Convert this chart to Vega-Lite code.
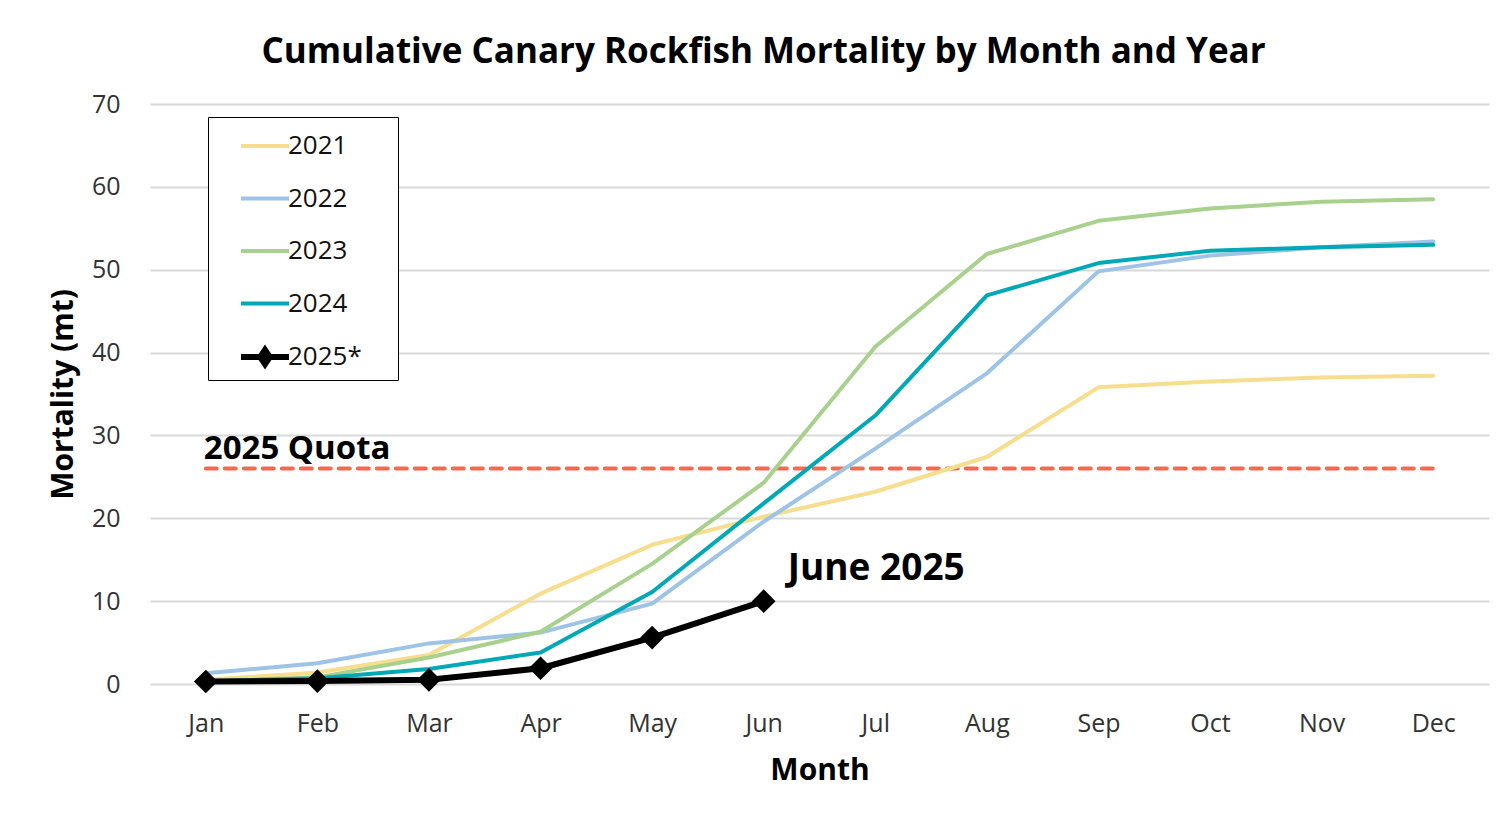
{
  "$schema": "https://vega.github.io/schema/vega-lite/v6.json",
  "width": 1339,
  "height": 580,
  "autosize": {"type": "none"},
  "padding": {"left": 150, "top": 104, "right": 22, "bottom": 130},
  "background": "white",
  "title": {
    "text": "Cumulative Canary Rockfish Mortality by Month and Year",
    "font": "Open Sans",
    "fontSize": 35,
    "fontWeight": "bold",
    "color": "black",
    "anchor": "middle",
    "dx": -56,
    "offset": 22
  },
  "config": {
    "view": {"stroke": null},
    "font": "Open Sans",
    "axis": {
      "labelFont": "Open Sans",
      "labelFontSize": 25,
      "labelColor": "#333333",
      "titleFont": "Open Sans",
      "titleFontSize": 30,
      "titleFontWeight": "bold",
      "titleColor": "black",
      "domain": false,
      "ticks": false
    }
  },
  "datasets": {
    "series": [
      {"month": "Jan", "year": "2021", "value": 0.5},
      {"month": "Feb", "year": "2021", "value": 1.4},
      {"month": "Mar", "year": "2021", "value": 3.5},
      {"month": "Apr", "year": "2021", "value": 10.9},
      {"month": "May", "year": "2021", "value": 16.8},
      {"month": "Jun", "year": "2021", "value": 20.2},
      {"month": "Jul", "year": "2021", "value": 23.2},
      {"month": "Aug", "year": "2021", "value": 27.4},
      {"month": "Sep", "year": "2021", "value": 35.8},
      {"month": "Oct", "year": "2021", "value": 36.5},
      {"month": "Nov", "year": "2021", "value": 37.0},
      {"month": "Dec", "year": "2021", "value": 37.2},
      {"month": "Jan", "year": "2022", "value": 1.3},
      {"month": "Feb", "year": "2022", "value": 2.5},
      {"month": "Mar", "year": "2022", "value": 4.9},
      {"month": "Apr", "year": "2022", "value": 6.2},
      {"month": "May", "year": "2022", "value": 9.7},
      {"month": "Jun", "year": "2022", "value": 19.6},
      {"month": "Jul", "year": "2022", "value": 28.4},
      {"month": "Aug", "year": "2022", "value": 37.5},
      {"month": "Sep", "year": "2022", "value": 49.8},
      {"month": "Oct", "year": "2022", "value": 51.7},
      {"month": "Nov", "year": "2022", "value": 52.7},
      {"month": "Dec", "year": "2022", "value": 53.4},
      {"month": "Jan", "year": "2023", "value": 0.3},
      {"month": "Feb", "year": "2023", "value": 0.8},
      {"month": "Mar", "year": "2023", "value": 3.2},
      {"month": "Apr", "year": "2023", "value": 6.3},
      {"month": "May", "year": "2023", "value": 14.5},
      {"month": "Jun", "year": "2023", "value": 24.3},
      {"month": "Jul", "year": "2023", "value": 40.7},
      {"month": "Aug", "year": "2023", "value": 51.9},
      {"month": "Sep", "year": "2023", "value": 55.9},
      {"month": "Oct", "year": "2023", "value": 57.4},
      {"month": "Nov", "year": "2023", "value": 58.2},
      {"month": "Dec", "year": "2023", "value": 58.5},
      {"month": "Jan", "year": "2024", "value": 0.3},
      {"month": "Feb", "year": "2024", "value": 0.7},
      {"month": "Mar", "year": "2024", "value": 1.8},
      {"month": "Apr", "year": "2024", "value": 3.8},
      {"month": "May", "year": "2024", "value": 11.1},
      {"month": "Jun", "year": "2024", "value": 21.8},
      {"month": "Jul", "year": "2024", "value": 32.4},
      {"month": "Aug", "year": "2024", "value": 46.9},
      {"month": "Sep", "year": "2024", "value": 50.8},
      {"month": "Oct", "year": "2024", "value": 52.3},
      {"month": "Nov", "year": "2024", "value": 52.7},
      {"month": "Dec", "year": "2024", "value": 53.0},
      {"month": "Jan", "year": "2025*", "value": 0.3},
      {"month": "Feb", "year": "2025*", "value": 0.35},
      {"month": "Mar", "year": "2025*", "value": 0.5},
      {"month": "Apr", "year": "2025*", "value": 1.9},
      {"month": "May", "year": "2025*", "value": 5.6},
      {"month": "Jun", "year": "2025*", "value": 10.0}
    ],
    "quota": [
      {"month": "Jan", "value": 26},
      {"month": "Dec", "value": 26}
    ],
    "notes": [
      {"month": "Jan", "value": 26, "label": "2025 Quota", "kind": "quota"},
      {"month": "Jun", "value": 10.0, "label": "June 2025", "kind": "june"}
    ]
  },
  "encoding": {
    "x": {
      "field": "month",
      "type": "ordinal",
      "scale": {"type": "point", "padding": 0.5, "domain": ["Jan","Feb","Mar","Apr","May","Jun","Jul","Aug","Sep","Oct","Nov","Dec"]},
      "axis": {"title": "Month", "labelAngle": 0, "labelPadding": 27, "titlePadding": 19, "grid": false}
    },
    "y": {
      "field": "value",
      "type": "quantitative",
      "scale": {"domain": [0, 70], "nice": false},
      "axis": {"title": "Mortality (mt)", "values": [0,10,20,30,40,50,60,70], "labelPadding": 30, "titlePadding": 13, "grid": true, "gridColor": "#d9d9d9", "gridWidth": 2}
    }
  },
  "layer": [
    {
      "data": {"name": "quota"},
      "mark": {"type": "line", "color": "#F26B50", "strokeWidth": 4, "strokeDash": [11, 8], "strokeCap": "round"},
      "encoding": {}
    },
    {
      "data": {"name": "series"},
      "mark": {"type": "line", "strokeCap": "round", "strokeJoin": "round"},
      "encoding": {
        "color": {
          "field": "year",
          "type": "nominal",
          "scale": {"domain": ["2021","2022","2023","2024","2025*"], "range": ["#F6DE8E","#9DC3E6","#A9D18E","#00A9B5","#000000"]},
          "legend": {
            "title": null,
            "orient": "none",
            "legendX": 58,
            "legendY": 13,
            "fillColor": "white",
            "strokeColor": "black",
            "padding": 3,
            "symbolOffset": 27,
            "symbolSize": 2304,
            "symbolStrokeWidth": 4,
            "symbolType": "stroke",
            "labelFont": "Open Sans",
            "labelFontSize": 26,
            "labelColor": "#111111",
            "labelOffset": -4,
            "rowPadding": 13.5,
            "labelExpr": "datum.label + '\u00a0\u00a0\u2800'",
            "encode": {
              "symbols": {
                "update": {
                  "shape": {"signal": "datum.value === '2025*' ? 'M-1,0H1M0,-0.3L0.2,0L0,0.3L-0.2,0Z' : 'stroke'"},
                  "fill": {"signal": "datum.value === '2025*' ? 'black' : 'transparent'"}
                }
              }
            }
          }
        },
        "strokeWidth": {
          "field": "year",
          "type": "nominal",
          "scale": {"type": "ordinal", "domain": ["2021","2022","2023","2024","2025*"], "range": [4, 4, 4, 4, 6]},
          "legend": null
        }
      }
    },
    {
      "data": {"name": "series"},
      "transform": [{"filter": "datum.year === '2025*'"}],
      "mark": {"type": "point", "shape": "diamond", "filled": true, "color": "black", "size": 560, "opacity": 1},
      "encoding": {}
    },
    {
      "data": {"name": "notes"},
      "transform": [{"filter": "datum.kind === 'quota'"}],
      "mark": {"type": "text", "align": "left", "baseline": "middle", "dy": -20, "dx": -2, "font": "Open Sans", "fontSize": 33, "fontWeight": "bold", "color": "black"},
      "encoding": {"text": {"field": "label"}}
    },
    {
      "data": {"name": "notes"},
      "transform": [{"filter": "datum.kind === 'june'"}],
      "mark": {"type": "text", "align": "left", "baseline": "middle", "dx": 24, "dy": -32, "font": "Open Sans", "fontSize": 37, "fontWeight": "bold", "color": "black"},
      "encoding": {"text": {"field": "label"}}
    }
  ]
}
